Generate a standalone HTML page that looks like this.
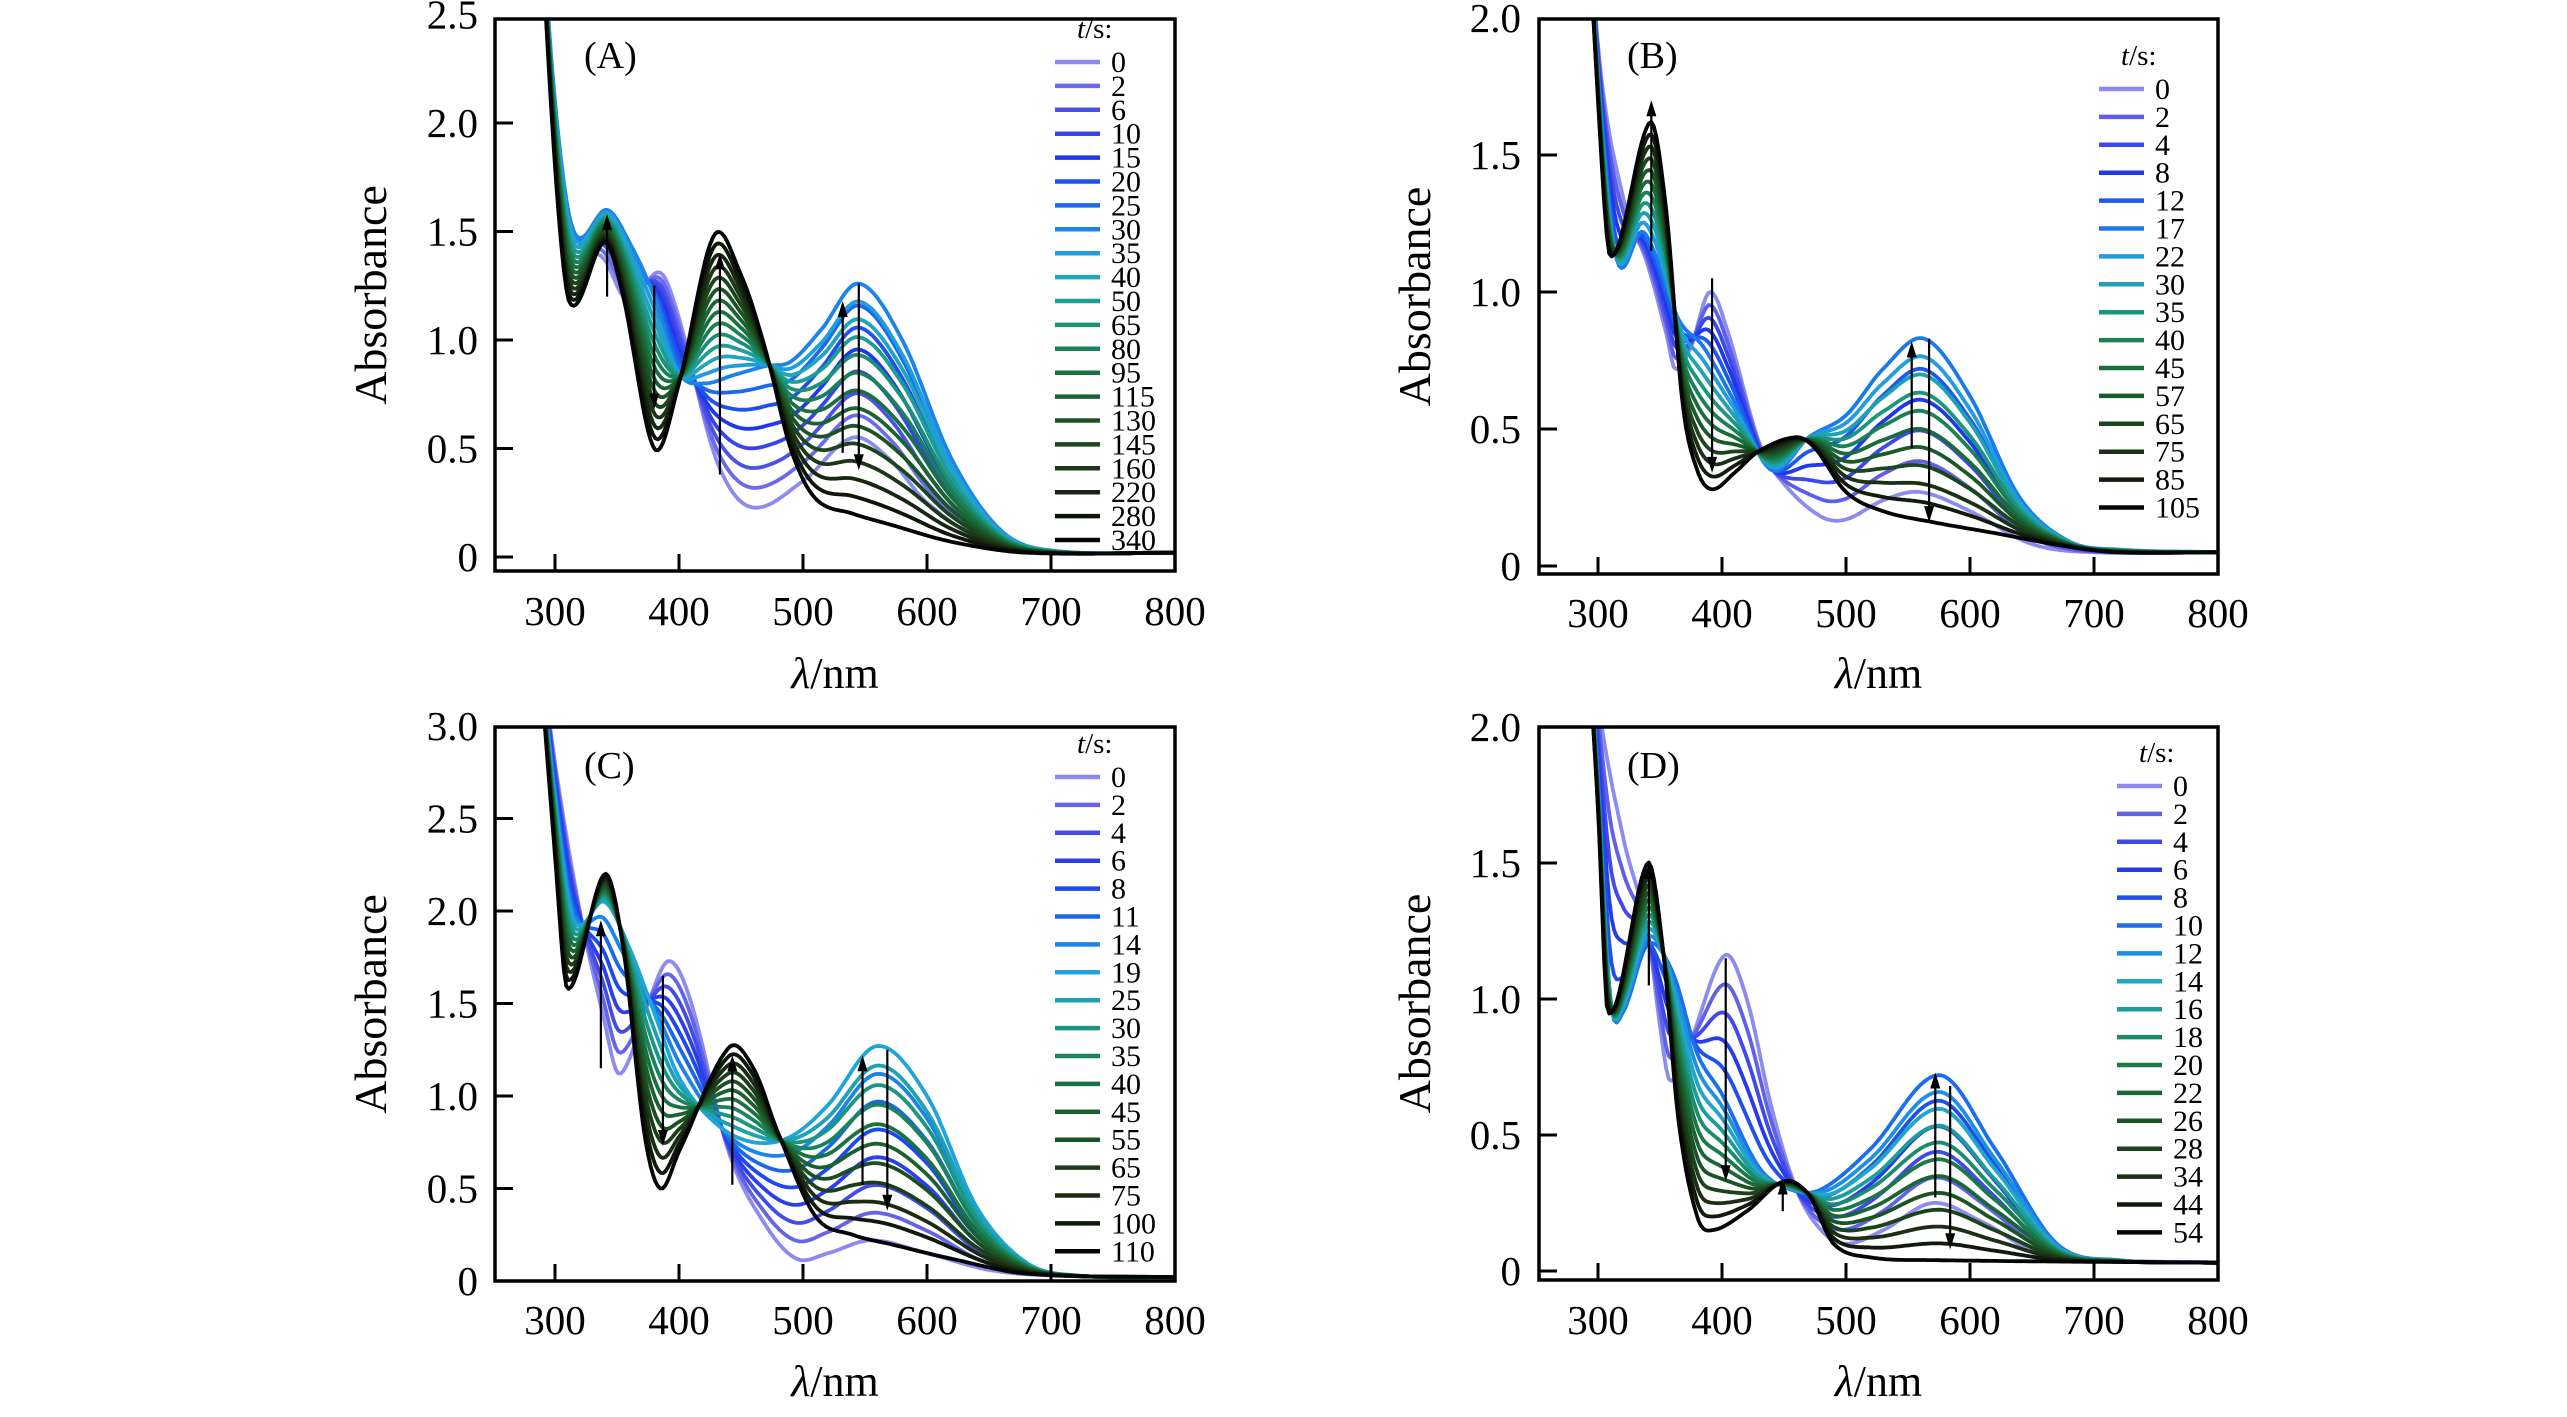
<!DOCTYPE html>
<html><head><meta charset="utf-8"><style>
html,body{margin:0;padding:0;background:#fff;}
svg{display:block;}
</style></head><body>
<svg id="s" width="2567" height="1417" xmlns="http://www.w3.org/2000/svg" font-family="'Liberation Serif', serif"></svg>
<script>
const svg=document.getElementById('s');
const FF='font-family="Liberation Serif, serif"';
let out='';
function cr(pts,x){
  let n=pts.length;
  if(x<=pts[0][0])return pts[0][1];
  if(x>=pts[n-1][0])return pts[n-1][1];
  let i=0;while(pts[i+1][0]<x)i++;
  const p0=pts[Math.max(i-1,0)],p1=pts[i],p2=pts[i+1],p3=pts[Math.min(i+2,n-1)];
  const t=(x-p1[0])/(p2[0]-p1[0]);
  const h=p2[0]-p1[0];
  const m1=(p2[1]-p0[1])/(p2[0]-p0[0])*h, m2=(p3[1]-p1[1])/(p3[0]-p1[0])*h;
  const t2=t*t,t3=t2*t;
  return (2*t3-3*t2+1)*p1[1]+(t3-2*t2+t)*m1+(-2*t3+3*t2)*p2[1]+(t3-t2)*m2;
}
function hex(c){return [parseInt(c.substr(1,2),16),parseInt(c.substr(3,2),16),parseInt(c.substr(5,2),16)];}
function grad(stops,f){
  for(let i=0;i<stops.length-1;i++){
    if(f<=stops[i+1][0]){
      const a=hex(stops[i][1]),b=hex(stops[i+1][1]);const u=(f-stops[i][0])/(stops[i+1][0]-stops[i][0]);
      return 'rgb('+a.map((v,k)=>Math.round(v+(b[k]-v)*u)).join(',')+')';
    }
  }
  return stops[stops.length-1][1];
}
const cols=[[0,'#8c8cf0'],[0.08,'#5555e6'],[0.2,'#2038ec'],[0.33,'#1a78ec'],[0.42,'#22a8d8'],[0.52,'#1a9a88'],[0.62,'#1a7a48'],[0.75,'#1a5424'],[0.88,'#1a2e12'],[1,'#050505']];
function panel(P){
  const {L,R,T,B,y0,yper,lab,tick,S0,S1,S2,n,k,legend,lx,ly,lsp,arrows,tx,ty,ytl,axl,xlb,xlab}=P;
  const X=x=>P.x300+(x-300)*(R-P.x300)/500;
  const Y=y=>y0-y*yper;
  const id='c'+lab;
  out+=`<clipPath id="${id}"><rect x="${L}" y="${T}" width="${R-L}" height="${B-T}"/></clipPath>`;
  let g=`<g clip-path="url(#${id})" fill="none" stroke-width="3.8" stroke-linejoin="round">`;
  for(let i=0;i<n;i++){
    let a,b,u;
    if(i<=k){a=S0;b=S1;u=i/k;} else {a=S1;b=S2;u=(i-k)/(n-1-k);}
    let d='';
    for(let x=285;x<=805;x+=2){
      const y=cr(a,x)*(1-u)+cr(b,x)*u;
      d+=(x==285?'M':'L')+X(x).toFixed(1)+','+Y(y).toFixed(1);
    }
    g+=`<path d="${d}" stroke="${grad(cols,i/(n-1))}"/>`;
  }
  arrows.forEach(([x,ya,yb])=>{
    const xx=X(x),a=Y(ya),b=Y(yb);const dir=b<a?-1:1;
    g+=`<line x1="${xx}" y1="${a}" x2="${xx}" y2="${b-dir*10}" stroke="#000" stroke-width="2.2"/>`;
    g+=`<polygon points="${xx},${b} ${xx-5},${b-dir*16} ${xx+5},${b-dir*16}" fill="#000" stroke="none"/>`;
  });
  g+='</g>';
  out+=g;
  out+=`<rect x="${L}" y="${T}" width="${R-L}" height="${B-T}" fill="none" stroke="#000" stroke-width="3.5"/>`;
  for(let v=300;v<=800;v+=100){
    const xx=X(v);
    if(v<800) out+=`<line x1="${xx}" y1="${B}" x2="${xx}" y2="${B-17}" stroke="#000" stroke-width="3"/>`;
    out+=`<text ${FF} x="${xx}" y="${xlb}" font-size="41" text-anchor="middle">${v}</text>`;
  }
  tick.forEach(v=>{
    const yy=Y(v);
    if(yy>T+4) out+=`<line x1="${L}" y1="${yy}" x2="${L+18}" y2="${yy}" stroke="#000" stroke-width="3"/>`;
    out+=`<text ${FF} x="${ytl}" y="${yy+14}" font-size="41" text-anchor="end">${v==0?'0':v.toFixed(1)}</text>`;
  });
  out+=`<text ${FF} transform="translate(${axl},${(T+B)/2}) rotate(-90)" font-size="46" text-anchor="middle">Absorbance</text>`;
  out+=`<text ${FF} x="${(L+R)/2}" y="${xlab}" font-size="44" text-anchor="middle"><tspan font-style="italic">λ</tspan>/nm</text>`;
  out+=`<text ${FF} x="${tx}" y="${ty}" font-size="38">(${lab})</text>`;
  out+=`<text ${FF} x="${lx+22}" y="${ly-12}" font-size="29"><tspan font-style="italic">t</tspan>/s:</text>`;
  legend.forEach((t,i)=>{
    const yy=ly+lsp*i+12;
    out+=`<line x1="${lx}" y1="${yy}" x2="${lx+45}" y2="${yy}" stroke="${grad(cols,i/(n-1))}" stroke-width="4.5"/>`;
    out+=`<text ${FF} x="${lx+56}" y="${yy+10}" font-size="30">${t}</text>`;
  });
}
panel({lab:'A',L:495,R:1175,T:19,B:571,x300:555,y0:557,yper:217,tick:[0,0.5,1.0,1.5,2.0,2.5],
 n:21,k:7,legend:['0','2','6','10','15','20','25','30','35','40','50','65','80','95','115','130','145','160','220','280','340'],
 lx:1055,ly:50,lsp:23.9,tx:584,ty:68,ytl:478,axl:386,xlb:625,xlab:688,
 S0:[[285,3.2],[300,2.0],[315,1.5],[340,1.37],[355,1.2],[365,1.2],[385,1.31],[400,1.1],[430,0.45],[458,0.23],[500,0.35],[540,0.55],[570,0.45],[600,0.25],[650,0.06],[700,0.02],[805,0.02]],
 S1:[[285,3.3],[300,2.1],[315,1.5],[342,1.6],[360,1.45],[380,1.2],[400,0.85],[420,0.8],[445,0.84],[470,0.88],[490,0.9],[515,1.05],[545,1.26],[580,1.0],[620,0.45],[660,0.12],[700,0.03],[805,0.02]],
 S2:[[285,3.3],[300,1.8],[312,1.17],[340,1.45],[355,1.2],[380,0.5],[400,0.8],[428,1.48],[450,1.3],[470,0.95],[490,0.5],[510,0.27],[540,0.2],[570,0.15],[620,0.07],[680,0.02],[805,0.02]],
 arrows:[[342,1.2,1.58],[380,1.25,0.68],[433,0.38,1.4],[532,0.48,1.18],[545,1.26,0.4]]});
panel({lab:'B',L:1539,R:2218,T:19,B:574,x300:1598,y0:566,yper:274,tick:[0,0.5,1.0,1.5,2.0],
 n:16,k:5,legend:['0','2','4','8','12','17','22','30','35','40','45','57','65','75','85','105'],
 lx:2099,ly:77,lsp:27.9,tx:1627,ty:68,ytl:1521,axl:1430,xlb:627,xlab:688,
 S0:[[285,3.0],[300,1.9],[320,1.35],[340,1.1],[355,0.85],[362,0.72],[375,0.8],[390,1.0],[405,0.85],[430,0.45],[450,0.3],[480,0.18],[500,0.17],[530,0.24],[560,0.27],[600,0.2],[650,0.08],[700,0.05],[805,0.05]],
 S1:[[285,3.0],[300,1.8],[315,1.12],[335,1.22],[345,1.15],[365,0.9],[385,0.8],[410,0.6],[440,0.35],[470,0.47],[500,0.55],[530,0.72],[563,0.83],[600,0.62],[640,0.25],[680,0.09],[720,0.06],[805,0.05]],
 S2:[[285,3.0],[300,1.7],[310,1.13],[342,1.62],[355,1.3],[368,0.6],[380,0.35],[392,0.28],[410,0.34],[430,0.42],[460,0.47],[475,0.43],[500,0.27],[530,0.2],[570,0.16],[620,0.12],[680,0.07],[720,0.05],[805,0.05]],
 arrows:[[343,1.15,1.7],[392,1.05,0.34],[553,0.43,0.82],[567,0.83,0.16]]});
panel({lab:'C',L:495,R:1175,T:727,B:1281,x300:555,y0:1281,yper:185,tick:[0,0.5,1.0,1.5,2.0,2.5,3.0],
 n:18,k:7,legend:['0','2','4','6','8','11','14','19','25','30','35','40','45','55','65','75','100','110'],
 lx:1055,ly:765,lsp:27.9,tx:584,ty:778,ytl:478,axl:386,xlb:1334,xlab:1396,
 S0:[[285,3.6],[300,2.8],[320,2.0],[340,1.4],[350,1.13],[360,1.2],[375,1.5],[392,1.73],[410,1.5],[440,0.7],[470,0.3],[495,0.12],[520,0.15],[555,0.22],[600,0.15],[650,0.06],[700,0.03],[805,0.02]],
 S1:[[285,3.6],[300,2.6],[315,1.95],[340,2.05],[360,1.8],[380,1.45],[400,1.1],[430,0.85],[460,0.75],[490,0.78],[520,0.95],[560,1.27],[600,1.0],[640,0.4],[680,0.1],[720,0.03],[805,0.02]],
 S2:[[285,3.6],[300,2.3],[310,1.58],[340,2.2],[355,1.8],[372,0.8],[385,0.5],[400,0.7],[440,1.26],[460,1.15],[480,0.8],[510,0.35],[540,0.25],[570,0.2],[620,0.12],[680,0.04],[805,0.02]],
 arrows:[[337,1.15,1.95],[387,1.65,0.73],[443,0.52,1.22],[548,0.52,1.22],[568,1.25,0.38]]});
panel({lab:'D',L:1539,R:2218,T:727,B:1280,x300:1598,y0:1271,yper:272,tick:[0,0.5,1.0,1.5,2.0],
 n:17,k:5,legend:['0','2','4','6','8','10','12','14','16','18','20','22','26','28','34','44','54'],
 lx:2117,ly:774,lsp:27.9,tx:1627,ty:778,ytl:1521,axl:1430,xlb:1334,xlab:1396,
 S0:[[285,2.8],[300,2.1],[320,1.6],[340,1.25],[350,0.9],[358,0.7],[375,0.85],[402,1.16],[420,1.0],[440,0.6],[460,0.3],[480,0.15],[500,0.1],[530,0.15],[570,0.25],[610,0.18],[660,0.06],[805,0.03]],
 S1:[[285,2.8],[300,1.8],[310,1.0],[320,0.95],[340,1.2],[360,1.1],[380,0.8],[400,0.65],[430,0.38],[455,0.3],[480,0.3],[520,0.45],[575,0.72],[620,0.45],[670,0.1],[720,0.04],[805,0.03]],
 S2:[[285,2.8],[300,1.7],[308,0.95],[340,1.5],[352,1.2],[365,0.55],[380,0.2],[392,0.15],[420,0.22],[450,0.33],[470,0.28],[490,0.1],[520,0.05],[570,0.04],[805,0.03]],
 arrows:[[341,1.05,1.5],[403,1.15,0.33],[449,0.22,0.34],[572,0.27,0.73],[584,0.68,0.08]]});
svg.innerHTML=out;
</script>
</body></html>
